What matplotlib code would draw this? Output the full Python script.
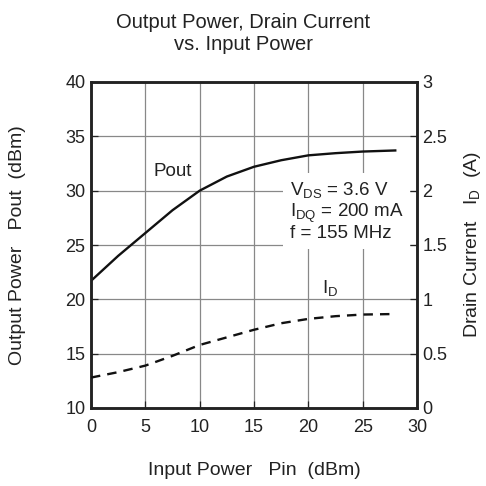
import matplotlib
matplotlib.use("Agg")
import matplotlib.pyplot as plt

plt.rcParams['font.family'] = ['Liberation Sans', 'DejaVu Sans']

pin = [0, 2.5, 5, 7.5, 10, 12.5, 15, 17.5, 20, 22.5, 25, 28]
pout = [21.7, 24.0, 26.1, 28.2, 30.0, 31.3, 32.2, 32.8, 33.25, 33.45, 33.6, 33.7]
idrain = [0.28, 0.33, 0.39, 0.48, 0.58, 0.65, 0.72, 0.78, 0.82, 0.845, 0.86, 0.865]

x_ticks = [0, 5, 10, 15, 20, 25, 30]
left_ticks = [10, 15, 20, 25, 30, 35, 40]
right_ticks = [0, 0.5, 1, 1.5, 2, 2.5, 3]
right_labels = ['0', '0.5', '1', '1.5', '2', '2.5', '3']

W = 486.0
fig = plt.figure(figsize=(4.86, 4.86), dpi=100)
L, R, T, B = 91, 417, 82, 408
ax = fig.add_axes([L/W, 1 - B/W, (R-L)/W, (B-T)/W])
ax2 = ax.twinx()

ax.set_xlim(0, 30)
ax.set_ylim(10, 40)
ax2.set_ylim(0, 3)
ax.set_xticks(x_ticks)
ax.set_yticks(left_ticks)
ax2.set_yticks(right_ticks)
ax2.set_yticklabels(right_labels)

ax.grid(True, color='#888888', linewidth=0.9)
ax.set_axisbelow(True)
for a in (ax, ax2):
    for s in a.spines.values():
        s.set_linewidth(1.8)
        s.set_color('#222222')
ax.tick_params(direction='in', length=5, width=0.9, labelsize=13, colors='#222222', pad=4)
ax.tick_params(axis='x', pad=8)
ax2.tick_params(direction='in', length=5, width=0.9, labelsize=13, colors='#222222', pad=4)

ax.plot(pin, pout, color='#111111', linewidth=1.7, zorder=3)
ax2.plot(pin, idrain, color='#111111', linewidth=1.7, linestyle=(0, (4, 3)), zorder=3)

ax.text(7.5, 31.8, 'Pout', fontsize=13.5, color='#222222', ha='center', va='center', zorder=4)
ax.text(22.0, 21.0, r'I$_\mathregular{D}$', fontsize=13.5, color='#222222', ha='center', va='center', zorder=4)
ax.text(18.3, 28.1,
        'V$_\\mathregular{DS}$ = 3.6 V\nI$_\\mathregular{DQ}$ = 200 mA\nf = 155 MHz',
        fontsize=13.5, color='#222222', ha='left', va='center', linespacing=1.0, zorder=4,
        bbox=dict(facecolor='white', edgecolor='none', pad=5))

ax.set_xlabel('Input Power   Pin  (dBm)', fontsize=14, color='#222222')
ax.set_ylabel('Output Power   Pout  (dBm)', fontsize=14, color='#222222')
ax2.set_ylabel(r'Drain Current   I$_\mathregular{D}$  (A)', fontsize=14, color='#222222')
ax.xaxis.label.set_va('center')
ax.xaxis.set_label_coords(0.5, (B - 470) / (B - T))
ax.yaxis.label.set_va('center')
ax.yaxis.set_label_coords((18 - L) / (R - L), 0.5)
ax2.yaxis.label.set_va('center')
ax2.yaxis.set_label_coords((472 - L) / (R - L), 0.5)

fig.text(0.5, 1 - 33/W, 'Output Power, Drain Current\nvs. Input Power', ha='center', va='center',
         fontsize=14.5, color='#222222', linespacing=1.2)

fig.savefig('out.png', dpi=100)
